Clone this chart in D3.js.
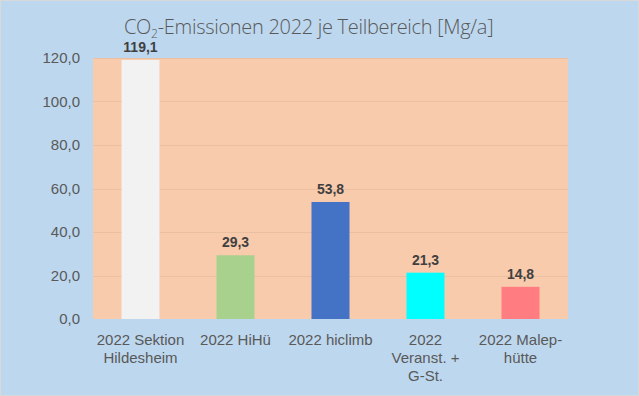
<!DOCTYPE html>
<html>
<head>
<meta charset="utf-8">
<script src="https://cdn.jsdelivr.net/npm/d3@7"></script>
<style>
    body { margin: 0; background: #BDD7EE; }
    svg { display: block; }
</style>
</head>
<body>
<script>
// chart data
var categories = ["2022 Sektion Hildesheim", "2022 HiHü", "2022 hiclimb",
                  "2022 Veranst. + G-St.", "2022 Malep-hütte"];
var labelLines = [["2022 Sektion", "Hildesheim"], ["2022 HiHü"], ["2022 hiclimb"],
                  ["2022", "Veranst. +", "G-St."], ["2022 Malep-", "hütte"]];
var values = [119.1, 29.3, 53.8, 21.3, 14.8];
var barColors = ["#F2F2F2", "#A9D18E", "#4472C4", "#00FFFF", "#FF7C80"];
var yTicks = [0, 20, 40, 60, 80, 100, 120];

var W = 639, H = 396;
var margin = {top: 58, right: 71, bottom: 77, left: 93},
    width = W - margin.left - margin.right,
    height = H - margin.top - margin.bottom;

var svg = d3.select("body").append("svg")
    .attr("width", W)
    .attr("height", H);

// background and thin border
svg.append("rect")
    .attr("x", 0.5).attr("y", 0.5)
    .attr("width", W - 1).attr("height", H - 1)
    .attr("fill", "#BDD7EE")
    .attr("stroke", "#D9D9D9");

var g = svg.append("g")
    .attr("transform", "translate(" + margin.left + "," + margin.top + ")");

var xScale = d3.scaleBand().domain(categories).range([0, width]).padding(0);
var yScale = d3.scaleLinear().domain([0, 120]).range([height, 0]);

// plot area
g.append("rect")
    .attr("width", width)
    .attr("height", height)
    .attr("fill", "#F8CBAD");

// gridlines
g.selectAll(".grid")
    .data(yTicks.slice(1))
    .enter().append("line")
    .attr("x1", 0).attr("x2", width)
    .attr("y1", function(d) { return Math.round(yScale(d)) + 0.5; })
    .attr("y2", function(d) { return Math.round(yScale(d)) + 0.5; })
    .attr("stroke", "#EBBFA2")
    .attr("stroke-width", 1);

// y axis labels only (no domain line)
var yAxis = d3.axisLeft(yScale)
    .tickValues(yTicks)
    .tickSize(0)
    .tickPadding(13)
    .tickFormat(function(d) { return d.toFixed(1).replace(".", ","); });

g.append("g")
    .attr("class", "y axis")
    .call(yAxis)
    .call(function(a) { a.select(".domain").remove(); })
    .selectAll("text")
    .attr("fill", "#595959")
    .attr("font-family", "Liberation Sans, Arial, sans-serif")
    .attr("font-size", "15px");

// bars, 40% of each band
var barW = xScale.bandwidth() * 0.4;
g.selectAll(".bar")
    .data(values)
    .enter().append("rect")
    .attr("class", "bar")
    .attr("x", function(d, i) {
        return xScale(categories[i]) + (xScale.bandwidth() - barW) / 2;
    })
    .attr("y", function(d) { return yScale(d); })
    .attr("width", barW)
    .attr("height", function(d) { return height - yScale(d); })
    .attr("fill", function(d, i) { return barColors[i]; });

// value labels
g.selectAll(".val")
    .data(values)
    .enter().append("text")
    .attr("x", function(d, i) {
        return xScale(categories[i]) + xScale.bandwidth() / 2;
    })
    .attr("y", function(d) { return yScale(d) - 8; })
    .attr("text-anchor", "middle")
    .attr("fill", "#404040")
    .attr("font-family", "Liberation Sans, Arial, sans-serif")
    .attr("font-weight", "bold")
    .attr("font-size", "14px")
    .text(function(d) { return d.toFixed(1).replace(".", ","); });

// x axis labels, wrapped like the original
var xl = g.selectAll(".xl")
    .data(categories)
    .enter().append("text")
    .attr("class", "xl")
    .attr("text-anchor", "middle")
    .attr("fill", "#595959")
    .attr("font-family", "Liberation Sans, Arial, sans-serif")
    .attr("font-size", "15px")
    .attr("transform", function(d) {
        return "translate(" + (xScale(d) + xScale.bandwidth() / 2) + "," + (height + 26) + ")";
    });

xl.each(function(d, i) {
    var t = d3.select(this);
    labelLines[i].forEach(function(line, j) {
        t.append("tspan")
            .attr("x", 0)
            .attr("y", j * 18)
            .text(line);
    });
});

// title
var title = svg.append("text")
    .attr("x", 124)
    .attr("y", 34)
    .attr("fill", "#595959")
    .attr("font-family", "Open Sans, Lato, sans-serif")
    .attr("font-weight", 300)
    .attr("font-size", "20px")
    .attr("letter-spacing", "-0.3px");
title.append("tspan").text("CO");
title.append("tspan").attr("font-size", "12px").attr("dy", 4).text("2");
title.append("tspan").attr("dy", -4).text("-Emissionen 2022 je Teilbereich [Mg/a]");
</script>
</body>
</html>
